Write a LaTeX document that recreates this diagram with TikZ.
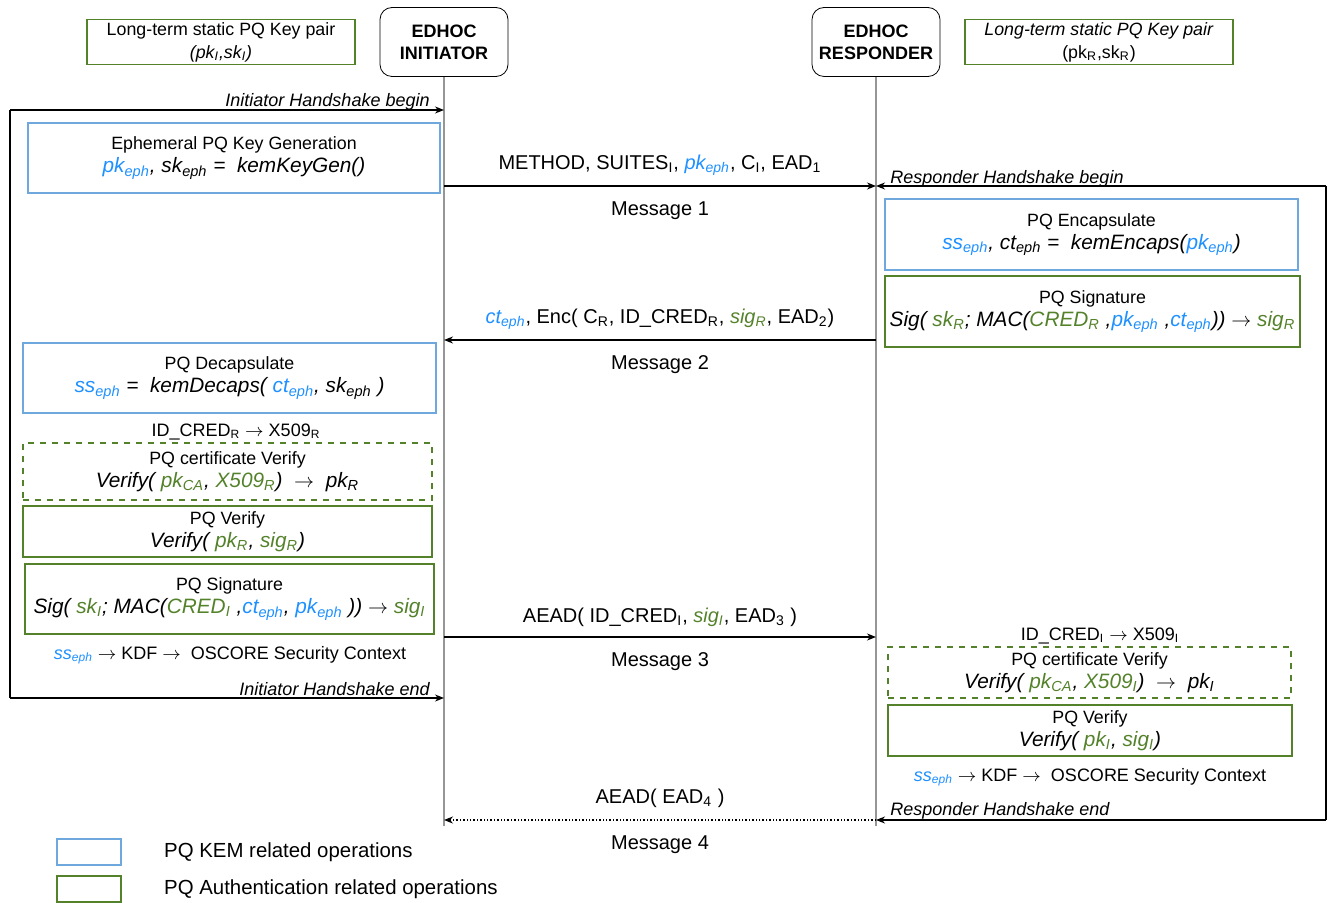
\documentclass[tikz,border=0pt]{standalone}
\usepackage{fontspec}
\setmainfont{Liberation Sans}
\usetikzlibrary{positioning,arrows.meta}
\definecolor{kemblue}{RGB}{30,144,255}
\definecolor{kemline}{RGB}{111,168,220}
\definecolor{authgreen}{RGB}{84,130,43}
\definecolor{lifegray}{RGB}{150,150,150}
\newcommand{\kem}[1]{\textcolor{kemblue}{#1}}
\newcommand{\auth}[1]{\textcolor{authgreen}{#1}}
\newcommand{\sub}[1]{\textsubscript{#1}}
\newcommand{\fline}[1]{{\fontsize{10.4}{12}\selectfont\itshape #1}}
\begin{document}
\begin{tikzpicture}[x=0.5pt,y=-0.5pt,
  every node/.style={font=\fontsize{8.9}{11.5}\selectfont,align=center,inner sep=0pt},
  party/.style={draw,rounded corners=6pt,minimum width=64pt,minimum height=34.5pt,font=\fontsize{9}{11}\selectfont\bfseries},
  kembox/.style={draw=kemline,line width=0.8pt},
  authbox/.style={draw=authgreen,line width=0.8pt},
  certbox/.style={authbox,dashed},
  msg/.style={font=\fontsize{10}{11}\selectfont},
  note/.style={font=\fontsize{9}{11}\selectfont},
  hs/.style={font=\fontsize{9}{10}\selectfont\itshape},
  life/.style={draw=lifegray,line width=0.6pt},
  arr/.style={-{Stealth[length=4.5pt,width=3.5pt]},line width=0.7pt}]
\useasboundingbox (0,0) rectangle (1333,903);

\node[party] (ini) at (444,42) {EDHOC\\INITIATOR};
\node[party] (res) at (876,42) {EDHOC\\RESPONDER};
\node[authbox,minimum width=134pt,minimum height=22.5pt] (ikey) at (221,42) {Long-term static PQ Key pair\\\textit{(pk\sub{I},sk\sub{I})}};
\node[authbox,minimum width=134pt,minimum height=22.5pt] (rkey) at (1099,42) {\textit{Long-term static PQ Key pair}\\(pk\sub{R},sk\sub{R})};

\coordinate (iniEnd) at (444,826);
\coordinate (resEnd) at (876,826);
\draw[life] (ini.south) -- (iniEnd);
\draw[life] (res.south) -- (resEnd);

\coordinate (itl) at (10,110);
\coordinate (ibl) at (10,698);
\coordinate (ihb) at (ini |- itl);
\coordinate (ihe) at (ini |- ibl);
\draw[line width=0.7pt] (itl) -- (ibl);
\draw[arr] (itl) -- (ihb);
\draw[arr] (ibl) -- (ihe);
\node[hs,anchor=south east,xshift=-7pt,yshift=-0.5pt] (ihbl) at (ihb) {Initiator Handshake begin};
\node[hs,anchor=south east,xshift=-7pt,yshift=1pt] (ihel) at (ihe) {Initiator Handshake end};

\coordinate (rtr) at (1326,186);
\coordinate (rbr) at (1326,820);
\coordinate (rhb) at (res |- rtr);
\coordinate (rhe) at (res |- rbr);
\draw[line width=0.7pt] (rtr) -- (rbr);
\draw[arr] (rtr) -- (rhb);
\draw[arr] (rbr) -- (rhe);
\node[hs,anchor=south west,xshift=7pt,yshift=-1pt] (rhbl) at (rhb) {Responder Handshake begin};
\node[hs,anchor=south west,xshift=7pt,yshift=0pt] (rhel) at (rhe) {Responder Handshake end};

\node[kembox,minimum width=206pt,minimum height=35pt] (keygen) at (234,158) {Ephemeral PQ Key Generation\\\fline{\kem{pk\sub{eph}}, sk\sub{eph} =\ \ kemKeyGen()}};
\node[kembox,minimum width=206.5pt,minimum height=35.5pt] (encaps) at (1091.5,234.5) {PQ Encapsulate\\\fline{\kem{ss\sub{eph}}, ct\sub{eph} =\ \ kemEncaps(\kem{pk\sub{eph}})}};
\node[authbox,minimum width=207.5pt,minimum height=35.5pt] (sigR) at (1092.5,311.5) {PQ Signature\\\fline{Sig( \auth{sk\sub{R}}; MAC(\auth{CRED\sub{R}} ,\kem{pk\sub{eph}} ,\kem{ct\sub{eph}})) $\rightarrow$ \auth{sig\sub{R}}}};
\node[kembox,minimum width=206.5pt,minimum height=35pt] (decaps) at (229.5,378) {PQ Decapsulate\\\fline{\kem{ss\sub{eph}} =\ \ kemDecaps( \kem{ct\sub{eph}}, sk\sub{eph} )}};
\node[note] (idR) at (236,432) {ID\_CRED\sub{R} $\rightarrow$ X509\sub{R}};
\node[certbox,minimum width=204.5pt,minimum height=28.5pt] (certR) at (227.5,471.5) {PQ certificate Verify\\\fline{Verify( \auth{pk\sub{CA}}, \auth{X509\sub{R}})\ \ $\rightarrow$\ \ pk\sub{R}}};
\node[authbox,minimum width=204.5pt,minimum height=25.5pt] (verR) at (227.5,531.5) {PQ Verify\\\fline{Verify( \auth{pk\sub{R}}, \auth{sig\sub{R}})}};
\node[authbox,minimum width=204.5pt,minimum height=35pt] (sigI) at (229.5,599) {PQ Signature\\\fline{Sig( \auth{sk\sub{I}}; MAC(\auth{CRED\sub{I}} ,\kem{ct\sub{eph}}, \kem{pk\sub{eph}} )) $\rightarrow$ \auth{sig\sub{I}}}};
\node[note] (kdfI) at (230,655) {\kem{\textit{ss\sub{eph}}} $\rightarrow$\ KDF $\rightarrow$\ \ OSCORE Security Context};

\node[note] (idI) at (1100,636) {ID\_CRED\sub{I} $\rightarrow$ X509\sub{I}};
\node[certbox,minimum width=201.5pt,minimum height=25.5pt] (certI) at (1089.5,672.5) {PQ certificate Verify\\\fline{Verify( \auth{pk\sub{CA}}, \auth{X509\sub{I}})\ \ $\rightarrow$\ \ pk\sub{I}}};
\node[authbox,minimum width=202pt,minimum height=25.5pt] (verI) at (1090,730.5) {PQ Verify\\\fline{Verify( \auth{pk\sub{I}}, \auth{sig\sub{I}})}};
\node[note] (kdfR) at (1090,777) {\kem{\textit{ss\sub{eph}}} $\rightarrow$\ KDF $\rightarrow$\ \ OSCORE Security Context};

\coordinate (m1s) at (ini |- 0,186);
\coordinate (m1e) at (res |- 0,186);
\coordinate (m2s) at (res |- 0,340);
\coordinate (m2e) at (ini |- 0,340);
\coordinate (m3s) at (ini |- 0,637);
\coordinate (m3e) at (res |- 0,637);
\coordinate (m4s) at (res |- 0,820);
\coordinate (m4e) at (ini |- 0,820);
\draw[arr] (m1s) -- node[msg,above=5pt] (m1) {METHOD, SUITES\sub{I}, \kem{\textit{pk\sub{eph}}}, C\sub{I}, EAD\sub{1}} node[msg,below=7.5pt] (m1l) {Message 1} (m1e);
\draw[arr] (m2s) -- node[msg,above=5pt] (m2) {\kem{\textit{ct\sub{eph}}}, Enc( C\sub{R}, ID\_CRED\sub{R}, \auth{\textit{sig\sub{R}}}, EAD\sub{2})} node[msg,below=7.5pt] (m2l) {Message 2} (m2e);
\draw[arr] (m3s) -- node[msg,above=5pt] (m3) {AEAD( ID\_CRED\sub{I}, \auth{\textit{sig\sub{I}}}, EAD\sub{3} )} node[msg,below=7.5pt] (m3l) {Message 3} (m3e);
\draw[arr,densely dotted] (m4s) -- node[msg,above=6pt] (m4) {AEAD( EAD\sub{4} )} node[msg,below=7.5pt] (m4l) {Message 4} (m4e);

\node[kembox,minimum width=32pt,minimum height=13pt] (legKem) at (89,852) {};
\node[authbox,minimum width=32pt,minimum height=13pt] (legAuth) at (89,889) {};
\node[font=\fontsize{10.2}{12}\selectfont,anchor=west,right=21pt of legKem] (legKemTxt) {PQ KEM related operations};
\node[font=\fontsize{10.2}{12}\selectfont,anchor=west,right=21pt of legAuth] (legAuthTxt) {PQ Authentication related operations};
\end{tikzpicture}
\end{document}
